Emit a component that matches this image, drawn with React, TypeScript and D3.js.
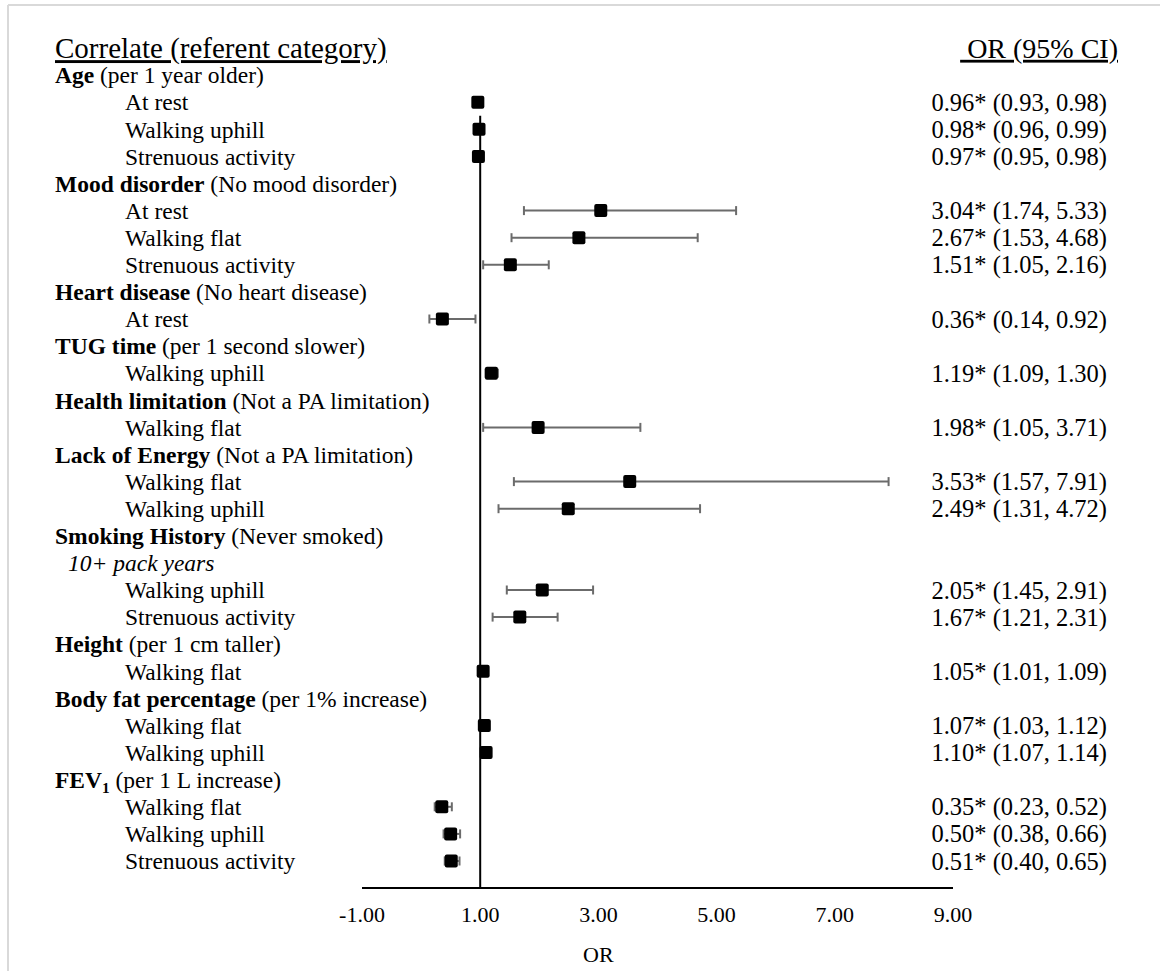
import { useEffect, useRef } from 'react';
import * as d3 from 'd3';

// group headers (bold part + referent in normal weight)
const groupNames = ['Age', 'Mood disorder', 'Heart disease', 'TUG time', 'Health limitation', 'Lack of Energy', 'Smoking History', 'Height', 'Body fat percentage', 'FEV'];
const groupReferents = ['(per 1 year older)', ' (No mood disorder)', '(No heart disease)', '(per 1 second slower)', ' (Not a PA limitation)', '(Not a PA limitation)', '(Never smoked)', '(per 1 cm taller)', '(per 1% increase)', '(per 1 L increase)'];
const groupSubheads = ['', '', '', '', '', '', '10+ pack years', '', '', ''];
const groupSizes = [3, 3, 1, 1, 1, 2, 2, 1, 2, 3];

const itemLabels = [
  'At rest', 'Walking uphill', 'Strenuous activity',
  'At rest', 'Walking flat', 'Strenuous activity',
  'At rest',
  'Walking uphill',
  'Walking flat',
  'Walking flat', 'Walking uphill',
  'Walking uphill', 'Strenuous activity',
  'Walking flat',
  'Walking flat', 'Walking uphill',
  'Walking flat', 'Walking uphill', 'Strenuous activity',
];
const orValues = [0.96, 0.98, 0.97, 3.04, 2.67, 1.51, 0.36, 1.19, 1.98, 3.53, 2.49, 2.05, 1.67, 1.05, 1.07, 1.10, 0.35, 0.50, 0.51];
const ciLow = [0.93, 0.96, 0.95, 1.74, 1.53, 1.05, 0.14, 1.09, 1.05, 1.57, 1.31, 1.45, 1.21, 1.01, 1.03, 1.07, 0.23, 0.38, 0.40];
const ciHigh = [0.98, 0.99, 0.98, 5.33, 4.68, 2.16, 0.92, 1.30, 3.71, 7.91, 4.72, 2.91, 2.31, 1.09, 1.12, 1.14, 0.52, 0.66, 0.65];

const xTicks = [-1, 1, 3, 5, 7, 9];

const App = () => {
  const svgRef = useRef<SVGSVGElement>(null);

  useEffect(() => {
    const width = 1160;
    const height = 971;
    const font = '"Liberation Serif", "Times New Roman", serif';
    const fs = 23.5;
    const fsVal = 24.5;

    const svg = d3.select(svgRef.current);
    svg.selectAll('*').remove();
    svg.attr('width', width).attr('height', height).style('font-family', font);

    // build the list of rows from the groups
    const rows: any[] = [];
    let k = 0;
    groupNames.forEach((g, gi) => {
      rows.push({ type: 'group', gi });
      if (groupSubheads[gi]) rows.push({ type: 'sub', text: groupSubheads[gi] });
      for (let j = 0; j < groupSizes[gi]; j++) {
        rows.push({ type: 'item', i: k });
        k++;
      }
    });

    const y = d3.scaleLinear().domain([0, rows.length]).range([48, 48 + 27.1 * rows.length]);
    const x = d3.scaleLinear().domain([-1, 9]).range([362, 953]);
    const axisY = y(rows.length + 1);
    const fmt = d3.format('.2f');

    // frame (only top and left edges are visible)
    svg.append('line').attr('x1', 8).attr('x2', width).attr('y1', 5).attr('y2', 5).attr('stroke', '#d9d9d9').attr('stroke-width', 2);
    svg.append('line').attr('x1', 8).attr('x2', 8).attr('y1', 5).attr('y2', height).attr('stroke', '#d9d9d9').attr('stroke-width', 2);

    // column headers
    svg.append('text').attr('x', 55).attr('y', y(0)).attr('dy', '0.35em')
      .attr('font-size', 29).attr('text-decoration', 'underline').text('Correlate (referent category)');
    svg.append('text').attr('x', 1118).attr('y', y(0)).attr('dy', '0.35em').attr('text-anchor', 'end')
      .attr('font-size', 28).attr('text-decoration', 'underline').text('\u00a0OR (95% CI)');

    // row labels
    rows.forEach((r, ri) => {
      const ty = y(ri + 1);
      if (r.type === 'group') {
        const t = svg.append('text').attr('x', 55).attr('y', ty).attr('dy', '0.35em').attr('font-size', fs);
        t.append('tspan').attr('font-weight', 'bold').text(groupNames[r.gi]);
        if (groupNames[r.gi] === 'FEV') {
          t.append('tspan').attr('font-weight', 'bold').attr('font-size', fs * 0.65).attr('dy', 5).text('1');
          t.append('tspan').attr('dy', -5).text(' ' + groupReferents[r.gi]);
        } else {
          t.append('tspan').text(' ' + groupReferents[r.gi]);
        }
      } else if (r.type === 'sub') {
        svg.append('text').attr('x', 68).attr('y', ty).attr('dy', '0.35em').attr('font-size', fs)
          .attr('font-style', 'italic').text(r.text);
      } else {
        svg.append('text').attr('x', 125).attr('y', ty).attr('dy', '0.35em').attr('font-size', fs).text(itemLabels[r.i]);
        svg.append('text').attr('x', 1107).attr('y', ty).attr('dy', '0.35em').attr('font-size', fsVal).attr('text-anchor', 'end')
          .text(`${fmt(orValues[r.i])}* (${fmt(ciLow[r.i])}, ${fmt(ciHigh[r.i])})`);
      }
    });

    const itemRows = rows.map((r, ri) => ({ ...r, ri })).filter(r => r.type === 'item');

    // whiskers
    const ci = svg.append('g').attr('stroke', '#6b6b6b').attr('stroke-width', 2);
    ci.selectAll('line.ci').data(itemRows).join('line').attr('class', 'ci')
      .attr('x1', d => x(ciLow[d.i])).attr('x2', d => x(ciHigh[d.i]))
      .attr('y1', d => y(d.ri + 1)).attr('y2', d => y(d.ri + 1));
    ci.selectAll('line.lo').data(itemRows).join('line').attr('class', 'lo')
      .attr('x1', d => x(ciLow[d.i])).attr('x2', d => x(ciLow[d.i]))
      .attr('y1', d => y(d.ri + 1) - 4.5).attr('y2', d => y(d.ri + 1) + 4.5);
    ci.selectAll('line.hi').data(itemRows).join('line').attr('class', 'hi')
      .attr('x1', d => x(ciHigh[d.i])).attr('x2', d => x(ciHigh[d.i]))
      .attr('y1', d => y(d.ri + 1) - 4.5).attr('y2', d => y(d.ri + 1) + 4.5);

    // reference line at OR = 1
    svg.append('line').attr('x1', x(1)).attr('x2', x(1)).attr('y1', y(2.5)).attr('y2', axisY)
      .attr('stroke', '#000').attr('stroke-width', 2);

    // point estimates
    const s = 13;
    svg.append('g').selectAll('rect').data(itemRows).join('rect')
      .attr('x', d => x(orValues[d.i]) - s / 2).attr('y', d => y(d.ri + 1) - s / 2)
      .attr('width', s).attr('height', s).attr('rx', 2).attr('fill', '#000');

    // x axis
    svg.append('line').attr('x1', x(-1)).attr('x2', x(9)).attr('y1', axisY).attr('y2', axisY)
      .attr('stroke', '#000').attr('stroke-width', 2);
    svg.append('g').selectAll('text').data(xTicks).join('text')
      .attr('x', d => x(d)).attr('y', axisY + 26).attr('dy', '0.35em').attr('text-anchor', 'middle')
      .attr('font-size', 22).text(d => fmt(d).replace('\u2212', '-'));
    svg.append('text').attr('x', x(3)).attr('y', axisY + 66).attr('dy', '0.35em').attr('text-anchor', 'middle')
      .attr('font-size', 22).text('OR');
  }, []);

  return (
    <div style={{ position: 'absolute', left: 0, top: 0 }}>
      <svg ref={svgRef}></svg>
    </div>
  );
};

export default App;
